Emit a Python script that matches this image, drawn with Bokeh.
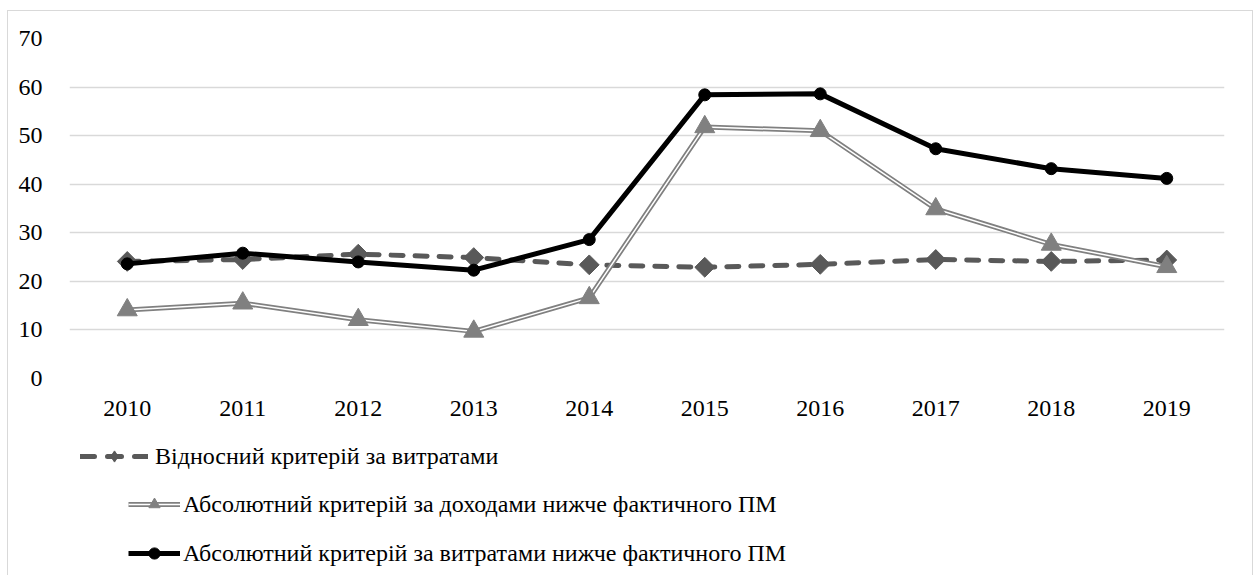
import math
from bokeh.plotting import figure
from bokeh.layouts import column
from bokeh.models import Range1d, Legend, LegendItem, ColumnDataSource
from bokeh.embed import file_html
from bokeh.resources import INLINE

years = ["2010", "2011", "2012", "2013", "2014", "2015", "2016", "2017", "2018", "2019"]
relative_exp = [24.1, 24.5, 25.6, 24.9, 23.4, 22.9, 23.5, 24.5, 24.1, 24.4]
absolute_inc = [14.1, 15.5, 12.1, 9.7, 16.6, 51.8, 51.0, 34.9, 27.6, 23.0]
absolute_exp = [23.6, 25.8, 24.0, 22.3, 28.6, 58.4, 58.6, 47.3, 43.2, 41.2]

names = [
    "Відносний критерій за витратами",
    "Абсолютний критерій за доходами нижче фактичного ПМ",
    "Абсолютний критерій за витратами нижче фактичного ПМ",
]
y_ticks = [0, 10, 20, 30, 40, 50, 60, 70]

FONT = "Liberation Serif"
W = 1244

src = ColumnDataSource(dict(x=years, rel=relative_exp, inc=absolute_inc, exp=absolute_exp))

p = figure(x_range=years, y_range=Range1d(0, 70), width=W, height=417,
           output_backend="svg", toolbar_location=None,
           min_border_left=61, min_border_right=28, min_border_top=27, min_border_bottom=50)
p.outline_line_color = None
p.border_fill_color = "white"
p.background_fill_color = "white"
p.xgrid.grid_line_color = None
p.ygrid.grid_line_color = "#d9d9d9"
p.ygrid.grid_line_width = 1.5
p.yaxis.ticker = y_ticks

for ax in (p.xaxis, p.yaxis):
    ax.axis_line_color = None
    ax.major_tick_line_color = None
    ax.minor_tick_line_color = None
    ax.major_label_text_font = FONT
    ax.major_label_text_font_size = "24px"
    ax.major_label_text_color = "black"
p.xaxis.major_label_standoff = 16
p.yaxis.major_label_standoff = 21

STY1 = dict(line_color="#595959", line_width=5, line_dash="12 12", line_cap="round")
MK1 = dict(marker="square", angle=math.pi / 4, size=14, fill_color="#595959", line_color="#595959")
STY2A = dict(line_color="#808080", line_width=5)
STY2B = dict(line_color="white", line_width=1.5)
MK2 = dict(marker="triangle", size=20, fill_color="#808080", line_color="#808080")
STY3 = dict(line_color="black", line_width=5)
MK3 = dict(marker="circle", size=12, fill_color="black", line_color="black")

p.line("x", "rel", source=src, **STY1)
p.scatter("x", "rel", source=src, **MK1)
p.line("x", "inc", source=src, **STY2A)
p.line("x", "inc", source=src, **STY2B)
p.scatter("x", "inc", source=src, **MK2)
p.line("x", "exp", source=src, **STY3)
p.scatter("x", "exp", source=src, **MK3)

# legend panel
lf = figure(width=W, height=147, x_range=Range1d(0, 1), y_range=Range1d(0, 1),
            output_backend="svg", toolbar_location=None,
            min_border_left=0, min_border_right=0, min_border_top=0, min_border_bottom=0)
lf.axis.visible = False
lf.grid.visible = False
lf.outline_line_color = None
lf.border_fill_color = "white"
lf.background_fill_color = "white"

off = ColumnDataSource(dict(x=[-5, -4], y=[-5, -4]))
a1 = lf.line("x", "y", source=off, line_color="#595959", line_width=5, line_dash="14 13", line_cap="round")
a1m = lf.scatter("x", "y", source=off, marker="diamond", size=15,
                 fill_color="#595959", line_color="#595959")
b1 = lf.line("x", "y", source=off, **STY2A)
b2 = lf.line("x", "y", source=off, **STY2B)
b1m = lf.scatter("x", "y", source=off, marker="triangle", size=13,
                 fill_color="#808080", line_color="#808080")
c1 = lf.line("x", "y", source=off, **STY3)
c1m = lf.scatter("x", "y", source=off, marker="circle", size=10,
                 fill_color="black", line_color="black")

entries = [
    (names[0], [a1, a1m], (11, 105), 68, 7),
    (names[1], [b1, b2, b1m], (59, 57), 52, 3),
    (names[2], [c1, c1m], (59, 8), 52, 3),
]
for label, rends, loc, gw, stand in entries:
    lg = Legend(items=[LegendItem(label=label, renderers=rends)], location=loc)
    lg.border_line_color = None
    lg.background_fill_alpha = 0
    lg.padding = 0
    lg.margin = 0
    lg.glyph_width = gw
    lg.glyph_height = 28
    lg.label_height = 28
    lg.label_standoff = stand
    lg.label_text_font = FONT
    lg.label_text_font_size = "24px"
    lg.label_text_color = "black"
    lf.add_layout(lg, "center")

layout = column(p, lf, spacing=0)
layout.margin = (10, 0, 0, 7)
layout.styles = {"border": "1px solid #d9d9d9"}

open("out.html", "w").write(file_html(layout, INLINE))
